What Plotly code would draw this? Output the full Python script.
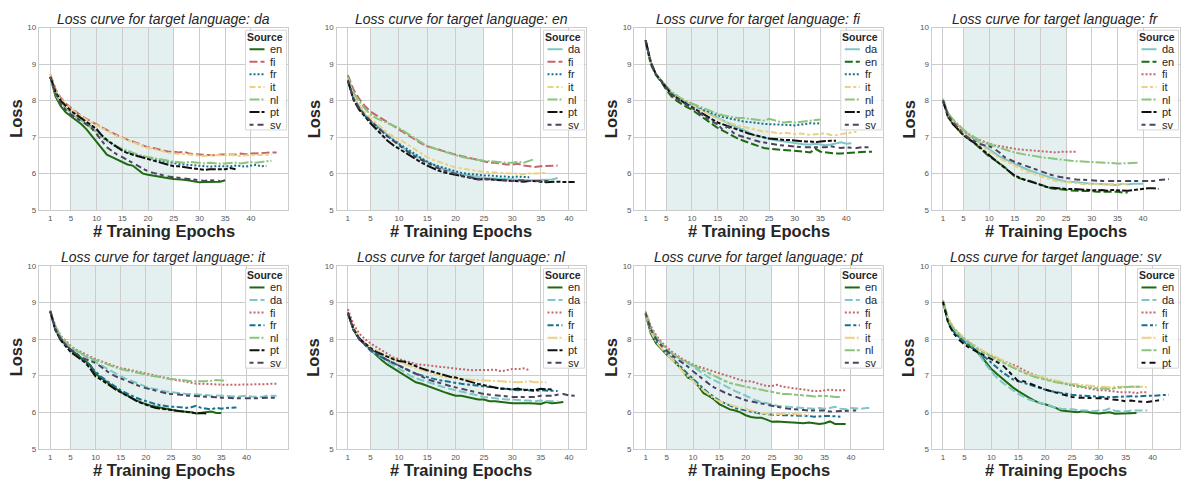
import plotly.graph_objects as go
from plotly.subplots import make_subplots

W, H = 1181, 487

# ---- validation loss per epoch, one dict per target language (key = source language) ----
loss_da = {
    "en": [8.65, 8.12, 7.85, 7.68, 7.57, 7.46, 7.36, 7.22, 7.05, 6.88, 6.68, 6.52, 6.45, 6.38, 6.3, 6.25, 6.22, 6.12, 6.0, 5.97, 5.94, 5.92, 5.9, 5.87, 5.85, 5.85, 5.83, 5.81, 5.78, 5.76, 5.77, 5.78, 5.77, 5.78, 5.82],
    "fi": [8.72, 8.32, 8.08, 7.92, 7.8, 7.68, 7.58, 7.5, 7.42, 7.35, 7.28, 7.2, 7.12, 7.05, 6.98, 6.93, 6.88, 6.82, 6.77, 6.72, 6.7, 6.66, 6.62, 6.6, 6.6, 6.58, 6.6, 6.55, 6.53, 6.52, 6.52, 6.5, 6.5, 6.52, 6.52, 6.5, 6.52, 6.55, 6.53, 6.55, 6.55, 6.55, 6.57, 6.58, 6.58],
    "fr": [8.65, 8.2, 7.95, 7.8, 7.68, 7.58, 7.48, 7.38, 7.28, 7.15, 7.0, 6.9, 6.8, 6.72, 6.65, 6.58, 6.53, 6.5, 6.47, 6.44, 6.4, 6.37, 6.33, 6.3, 6.28, 6.26, 6.25, 6.24, 6.22, 6.2, 6.2, 6.19, 6.2, 6.2, 6.18, 6.2, 6.22, 6.2, 6.19, 6.22, 6.24, 6.2, 6.21],
    "it": [8.72, 8.3, 8.05, 7.9, 7.78, 7.66, 7.56, 7.48, 7.4, 7.33, 7.26, 7.18, 7.1, 7.03, 6.97, 6.92, 6.86, 6.8, 6.75, 6.71, 6.67, 6.63, 6.6, 6.57, 6.55, 6.55, 6.53, 6.52, 6.5, 6.5, 6.48, 6.5, 6.5, 6.48, 6.5, 6.52, 6.5, 6.48, 6.5, 6.5, 6.52, 6.5, 6.5, 6.52],
    "nl": [8.65, 8.18, 7.92, 7.78, 7.66, 7.56, 7.46, 7.36, 7.26, 7.14, 7.02, 6.92, 6.82, 6.74, 6.68, 6.62, 6.56, 6.52, 6.48, 6.45, 6.42, 6.4, 6.37, 6.35, 6.33, 6.32, 6.3, 6.32, 6.3, 6.28, 6.28, 6.3, 6.28, 6.27, 6.28, 6.3, 6.3, 6.28, 6.3, 6.32, 6.3, 6.33, 6.34, 6.35],
    "pt": [8.65, 8.25, 8.0, 7.85, 7.72, 7.62, 7.52, 7.42, 7.32, 7.22, 7.05, 6.92, 6.82, 6.72, 6.63, 6.56, 6.52, 6.48, 6.43, 6.38, 6.34, 6.3, 6.27, 6.23, 6.2, 6.2, 6.18, 6.17, 6.15, 6.12, 6.1, 6.12, 6.12, 6.1, 6.12, 6.15, 6.12],
    "sv": [8.65, 8.2, 7.92, 7.74, 7.62, 7.52, 7.44, 7.35, 7.25, 7.08, 6.9, 6.72, 6.62, 6.52, 6.45, 6.37, 6.3, 6.22, 6.12, 6.06, 6.02, 5.98, 5.95, 5.92, 5.9, 5.88, 5.86, 5.85, 5.83, 5.82, 5.8, 5.82, 5.81, 5.8],
}

loss_en = {
    "da": [8.55, 8.1, 7.85, 7.62, 7.45, 7.32, 7.18, 7.05, 6.92, 6.8, 6.68, 6.58, 6.48, 6.4, 6.32, 6.24, 6.18, 6.12, 6.06, 6.02, 5.98, 5.95, 5.92, 5.9, 5.88, 5.87, 5.86, 5.85, 5.84, 5.84, 5.83, 5.83, 5.82, 5.82, 5.82, 5.83, 5.84, 5.88],
    "fi": [8.7, 8.3, 8.05, 7.85, 7.7, 7.6, 7.52, 7.42, 7.32, 7.22, 7.12, 7.02, 6.92, 6.82, 6.75, 6.7, 6.66, 6.62, 6.57, 6.52, 6.48, 6.44, 6.4, 6.36, 6.32, 6.3, 6.3, 6.27, 6.25, 6.25, 6.27, 6.22, 6.2, 6.18, 6.2, 6.2, 6.22, 6.22],
    "fr": [8.55, 8.05, 7.78, 7.58, 7.42, 7.28, 7.15, 7.02, 6.92, 6.82, 6.7, 6.6, 6.5, 6.42, 6.33, 6.25, 6.2, 6.15, 6.1, 6.05, 6.02, 6.0, 5.98, 5.96, 5.95, 5.95, 5.93, 5.92, 5.92, 5.9, 5.92, 5.9, 5.9],
    "it": [8.6, 8.15, 7.88, 7.68, 7.52, 7.38, 7.25, 7.12, 7.02, 6.95, 6.85, 6.75, 6.65, 6.55, 6.45, 6.38, 6.32, 6.27, 6.22, 6.17, 6.14, 6.12, 6.1, 6.07, 6.05, 6.05, 6.03, 6.02, 6.0, 6.0, 6.0, 5.98, 6.0, 6.0, 6.02, 6.02],
    "nl": [8.65, 8.22, 7.98, 7.78, 7.62, 7.52, 7.45, 7.38, 7.32, 7.25, 7.15, 7.05, 6.95, 6.85, 6.75, 6.7, 6.65, 6.6, 6.55, 6.5, 6.46, 6.43, 6.4, 6.37, 6.35, 6.34, 6.32, 6.32, 6.3, 6.3, 6.32, 6.3, 6.35, 6.4],
    "pt": [8.55, 8.02, 7.75, 7.55, 7.38, 7.22, 7.05, 6.9, 6.78, 6.68, 6.58, 6.48, 6.38, 6.3, 6.22, 6.14, 6.08, 6.03, 6.0, 5.98, 5.94, 5.9, 5.87, 5.84, 5.85, 5.84, 5.83, 5.82, 5.82, 5.8, 5.8, 5.78, 5.8, 5.8, 5.78, 5.76, 5.78, 5.78, 5.77, 5.77, 5.77],
    "sv": [8.55, 8.05, 7.8, 7.6, 7.45, 7.3, 7.15, 7.02, 6.9, 6.78, 6.66, 6.55, 6.45, 6.37, 6.28, 6.2, 6.14, 6.08, 6.03, 5.98, 5.95, 5.92, 5.88, 5.85, 5.86, 5.85, 5.84, 5.83, 5.82, 5.8, 5.82, 5.8, 5.8, 5.8, 5.8, 5.8, 5.8],
}

loss_fi = {
    "da": [9.65, 9.05, 8.72, 8.55, 8.38, 8.22, 8.12, 8.02, 7.95, 7.88, 7.82, 7.75, 7.68, 7.6, 7.52, 7.45, 7.38, 7.32, 7.25, 7.2, 7.12, 7.06, 7.02, 6.98, 6.94, 6.92, 6.9, 6.88, 6.85, 6.85, 6.82, 6.8, 6.8, 6.82, 6.8, 6.78, 6.8, 6.82, 6.86, 6.82, 6.83],
    "en": [9.6, 9.0, 8.7, 8.52, 8.3, 8.12, 8.0, 7.9, 7.82, 7.75, 7.65, 7.55, 7.45, 7.35, 7.25, 7.18, 7.1, 7.02, 6.95, 6.9, 6.85, 6.8, 6.75, 6.7, 6.68, 6.67, 6.66, 6.65, 6.63, 6.64, 6.62, 6.6, 6.58, 6.68, 6.6, 6.58, 6.55, 6.55, 6.55, 6.55, 6.57, 6.58, 6.6, 6.6, 6.6],
    "fr": [9.65, 9.05, 8.72, 8.55, 8.38, 8.22, 8.12, 8.02, 7.95, 7.88, 7.82, 7.76, 7.7, 7.65, 7.58, 7.55, 7.52, 7.48, 7.46, 7.43, 7.42, 7.4, 7.38, 7.36, 7.35, 7.35, 7.33, 7.34, 7.33, 7.32, 7.34, 7.35, 7.38, 7.37, 7.38],
    "it": [9.65, 9.05, 8.72, 8.55, 8.38, 8.22, 8.12, 8.02, 7.95, 7.88, 7.8, 7.72, 7.65, 7.57, 7.5, 7.45, 7.4, 7.35, 7.32, 7.28, 7.25, 7.22, 7.18, 7.15, 7.15, 7.12, 7.1, 7.12, 7.1, 7.08, 7.1, 7.08, 7.06, 7.08, 7.1, 7.1, 7.06, 7.05, 7.08, 7.1, 7.12, 7.15],
    "nl": [9.65, 9.05, 8.72, 8.55, 8.4, 8.25, 8.15, 8.05, 7.98, 7.92, 7.86, 7.8, 7.74, 7.68, 7.64, 7.6, 7.57, 7.55, 7.52, 7.52, 7.5, 7.48, 7.48, 7.45, 7.5, 7.45, 7.42, 7.4, 7.42, 7.4, 7.42, 7.43, 7.45, 7.47, 7.48],
    "pt": [9.65, 9.05, 8.72, 8.55, 8.35, 8.18, 8.08, 7.98, 7.9, 7.82, 7.73, 7.65, 7.57, 7.48, 7.4, 7.35, 7.3, 7.24, 7.18, 7.14, 7.1, 7.06, 7.02, 6.98, 6.96, 6.95, 6.93, 6.92, 6.92, 6.9, 6.9, 6.88, 6.88, 6.86, 6.88, 6.9, 6.9, 6.9],
    "sv": [9.65, 9.05, 8.72, 8.55, 8.35, 8.18, 8.06, 7.96, 7.88, 7.8, 7.7, 7.6, 7.5, 7.42, 7.35, 7.2, 7.3, 7.12, 7.05, 7.0, 6.95, 6.92, 6.88, 6.85, 6.83, 6.8, 6.78, 6.77, 6.75, 6.74, 6.73, 6.72, 6.72, 6.7, 6.7, 6.72, 6.75, 6.72, 6.7, 6.72, 6.7, 6.7, 6.72, 6.72, 6.72],
}

loss_fr = {
    "da": [8.0, 7.62, 7.45, 7.3, 7.15, 7.05, 6.95, 6.85, 6.75, 6.65, 6.55, 6.47, 6.4, 6.33, 6.27, 6.2, 6.14, 6.08, 6.03, 5.97, 5.93, 5.89, 5.85, 5.82, 5.78, 5.78, 5.76, 5.75, 5.73, 5.72, 5.72, 5.71, 5.7, 5.7, 5.69, 5.72, 5.7, 5.72, 5.72, 5.72],
    "en": [8.0, 7.55, 7.35, 7.2, 7.05, 6.95, 6.85, 6.72, 6.6, 6.47, 6.38, 6.28, 6.18, 6.05, 5.92, 5.87, 5.82, 5.8, 5.75, 5.68, 5.63, 5.6, 5.58, 5.56, 5.55, 5.54, 5.53, 5.53, 5.52, 5.52, 5.5, 5.5, 5.52, 5.5, 5.5, 5.48, 5.48],
    "fi": [8.02, 7.62, 7.45, 7.32, 7.18, 7.07, 6.98, 6.92, 6.88, 6.82, 6.78, 6.75, 6.72, 6.7, 6.68, 6.66, 6.65, 6.63, 6.62, 6.6, 6.6, 6.6, 6.58, 6.6, 6.6, 6.6, 6.6],
    "it": [8.0, 7.6, 7.42, 7.28, 7.12, 7.02, 6.92, 6.8, 6.7, 6.6, 6.5, 6.42, 6.35, 6.28, 6.2, 6.13, 6.08, 6.02, 5.97, 5.92, 5.88, 5.84, 5.8, 5.78, 5.77, 5.75, 5.73, 5.72, 5.7, 5.72, 5.7, 5.7, 5.7, 5.72, 5.7, 5.7, 5.72],
    "nl": [8.05, 7.65, 7.48, 7.35, 7.2, 7.1, 7.0, 6.92, 6.85, 6.8, 6.75, 6.7, 6.66, 6.62, 6.58, 6.54, 6.52, 6.5, 6.47, 6.45, 6.43, 6.42, 6.4, 6.38, 6.36, 6.35, 6.34, 6.33, 6.32, 6.32, 6.31, 6.3, 6.3, 6.28, 6.28, 6.28, 6.29, 6.3, 6.3],
    "pt": [8.0, 7.55, 7.35, 7.2, 7.05, 6.95, 6.85, 6.75, 6.62, 6.5, 6.38, 6.27, 6.16, 6.05, 5.95, 5.88, 5.82, 5.78, 5.74, 5.68, 5.64, 5.62, 5.6, 5.59, 5.58, 5.58, 5.57, 5.57, 5.55, 5.55, 5.54, 5.55, 5.53, 5.55, 5.54, 5.53, 5.53, 5.55, 5.57, 5.58, 5.6, 5.6, 5.58],
    "sv": [8.0, 7.6, 7.4, 7.25, 7.08, 6.98, 6.9, 6.82, 6.78, 6.75, 6.68, 6.58, 6.45, 6.38, 6.32, 6.27, 6.22, 6.17, 6.1, 6.05, 6.0, 5.97, 5.93, 5.9, 5.88, 5.86, 5.84, 5.83, 5.82, 5.82, 5.81, 5.8, 5.8, 5.8, 5.79, 5.8, 5.8, 5.8, 5.8, 5.8, 5.78, 5.8, 5.82, 5.83, 5.85],
}

loss_it = {
    "en": [8.75, 8.3, 8.05, 7.85, 7.72, 7.6, 7.5, 7.4, 7.28, 7.05, 6.95, 6.85, 6.75, 6.65, 6.55, 6.48, 6.4, 6.33, 6.27, 6.22, 6.18, 6.15, 6.12, 6.08, 6.06, 6.04, 6.03, 6.02, 6.0, 5.97, 5.98, 5.99, 6.02, 5.98, 5.98],
    "da": [8.75, 8.3, 8.05, 7.9, 7.78, 7.68, 7.6, 7.52, 7.45, 7.38, 7.3, 7.22, 7.12, 7.05, 6.98, 6.92, 6.86, 6.8, 6.75, 6.7, 6.66, 6.62, 6.6, 6.57, 6.55, 6.55, 6.52, 6.5, 6.5, 6.48, 6.48, 6.47, 6.45, 6.46, 6.45, 6.45, 6.44, 6.43, 6.44, 6.45, 6.43, 6.42, 6.42, 6.45, 6.46, 6.45],
    "fi": [8.78, 8.35, 8.1, 7.95, 7.82, 7.72, 7.65, 7.58, 7.5, 7.45, 7.4, 7.35, 7.3, 7.25, 7.2, 7.18, 7.15, 7.1, 7.07, 7.05, 7.02, 6.98, 6.95, 6.92, 6.9, 6.88, 6.86, 6.83, 6.8, 6.78, 6.78, 6.77, 6.76, 6.75, 6.75, 6.75, 6.75, 6.75, 6.76, 6.75, 6.76, 6.76, 6.77, 6.77, 6.78, 6.78],
    "fr": [8.75, 8.25, 8.0, 7.82, 7.7, 7.58, 7.48, 7.38, 7.25, 7.1, 6.98, 6.88, 6.78, 6.68, 6.6, 6.53, 6.46, 6.4, 6.35, 6.3, 6.26, 6.22, 6.19, 6.16, 6.15, 6.15, 6.13, 6.12, 6.14, 6.18, 6.12, 6.1, 6.08, 6.12, 6.1, 6.12, 6.12, 6.13],
    "nl": [8.78, 8.35, 8.1, 7.92, 7.8, 7.7, 7.62, 7.55, 7.48, 7.42, 7.38, 7.32, 7.28, 7.22, 7.18, 7.15, 7.12, 7.08, 7.04, 7.02, 7.0, 6.98, 6.95, 6.92, 6.9, 6.9, 6.88, 6.86, 6.85, 6.85, 6.84, 6.85, 6.86, 6.88, 6.87, 6.87],
    "pt": [8.75, 8.25, 7.98, 7.8, 7.65, 7.55, 7.45, 7.35, 7.18, 6.98, 6.9, 6.8, 6.7, 6.62, 6.55, 6.47, 6.4, 6.32, 6.26, 6.2, 6.16, 6.12, 6.1, 6.07, 6.05, 6.03, 6.02, 6.01, 6.0, 5.97, 5.98, 5.97],
    "sv": [8.75, 8.28, 8.02, 7.85, 7.72, 7.62, 7.52, 7.45, 7.4, 7.35, 7.25, 7.15, 7.05, 6.98, 6.92, 6.86, 6.8, 6.75, 6.7, 6.66, 6.62, 6.58, 6.55, 6.52, 6.5, 6.5, 6.48, 6.46, 6.45, 6.43, 6.42, 6.42, 6.4, 6.4, 6.4, 6.4, 6.38, 6.38, 6.38, 6.37, 6.38, 6.38, 6.4, 6.4, 6.4, 6.4],
}

loss_nl = {
    "en": [8.7, 8.25, 8.0, 7.85, 7.7, 7.55, 7.42, 7.3, 7.2, 7.12, 7.02, 6.9, 6.82, 6.78, 6.72, 6.65, 6.6, 6.55, 6.5, 6.45, 6.45, 6.42, 6.38, 6.35, 6.35, 6.3, 6.3, 6.28, 6.26, 6.25, 6.25, 6.26, 6.25, 6.24, 6.23, 6.28, 6.25, 6.26, 6.28],
    "da": [8.72, 8.25, 8.0, 7.85, 7.7, 7.58, 7.48, 7.38, 7.28, 7.18, 7.08, 7.0, 6.93, 6.88, 6.82, 6.76, 6.72, 6.68, 6.64, 6.6, 6.56, 6.52, 6.48, 6.45, 6.42, 6.4, 6.38, 6.36, 6.35, 6.35, 6.33, 6.32, 6.32, 6.3, 6.32, 6.3, 6.3, 6.3],
    "fi": [8.82, 8.4, 8.15, 8.0, 7.88, 7.78, 7.68, 7.58, 7.5, 7.45, 7.4, 7.35, 7.32, 7.3, 7.28, 7.28, 7.25, 7.22, 7.2, 7.18, 7.18, 7.16, 7.15, 7.15, 7.14, 7.15, 7.16, 7.12, 7.15, 7.18, 7.18, 7.2, 7.15],
    "fr": [8.72, 8.25, 8.0, 7.85, 7.68, 7.58, 7.5, 7.42, 7.35, 7.28, 7.2, 7.12, 7.05, 7.0, 6.95, 6.92, 6.88, 6.85, 6.82, 6.8, 6.78, 6.76, 6.74, 6.72, 6.7, 6.68, 6.66, 6.64, 6.62, 6.6, 6.6, 6.62, 6.6, 6.58, 6.6, 6.6, 6.58, 6.58],
    "it": [8.75, 8.3, 8.05, 7.9, 7.78, 7.68, 7.6, 7.52, 7.45, 7.38, 7.32, 7.26, 7.2, 7.15, 7.1, 7.05, 7.0, 6.97, 6.95, 6.93, 6.92, 6.9, 6.88, 6.88, 6.87, 6.85, 6.84, 6.83, 6.82, 6.82, 6.82, 6.83, 6.85, 6.82, 6.82, 6.82],
    "pt": [8.72, 8.28, 8.02, 7.88, 7.75, 7.65, 7.58, 7.5, 7.45, 7.4, 7.38, 7.32, 7.25, 7.2, 7.15, 7.1, 7.05, 7.0, 6.97, 6.95, 6.9, 6.85, 6.8, 6.77, 6.74, 6.7, 6.66, 6.64, 6.64, 6.62, 6.65, 6.6, 6.62, 6.6, 6.64, 6.62, 6.62],
    "sv": [8.72, 8.25, 8.0, 7.85, 7.72, 7.62, 7.52, 7.42, 7.35, 7.28, 7.2, 7.12, 7.05, 6.98, 6.9, 6.85, 6.8, 6.76, 6.72, 6.68, 6.64, 6.6, 6.56, 6.52, 6.5, 6.48, 6.46, 6.44, 6.43, 6.42, 6.42, 6.42, 6.43, 6.42, 6.45, 6.44, 6.45, 6.48, 6.5, 6.46, 6.45],
}

loss_pt = {
    "en": [8.68, 8.15, 7.88, 7.72, 7.58, 7.45, 7.3, 7.15, 6.95, 6.88, 6.72, 6.52, 6.45, 6.35, 6.22, 6.15, 6.08, 6.05, 6.0, 5.92, 5.87, 5.85, 5.85, 5.8, 5.74, 5.75, 5.75, 5.73, 5.72, 5.7, 5.7, 5.72, 5.7, 5.68, 5.7, 5.75, 5.68, 5.68, 5.68],
    "da": [8.72, 8.3, 8.05, 7.88, 7.72, 7.6, 7.5, 7.42, 7.35, 7.25, 7.15, 7.05, 6.95, 6.88, 6.8, 6.72, 6.65, 6.58, 6.52, 6.45, 6.4, 6.32, 6.28, 6.24, 6.2, 6.18, 6.16, 6.15, 6.14, 6.12, 6.12, 6.1, 6.1, 6.12, 6.1, 6.12, 6.15, 6.1, 6.08, 6.12, 6.1, 6.1, 6.12, 6.12],
    "fi": [8.75, 8.35, 8.1, 7.92, 7.78, 7.65, 7.55, 7.45, 7.38, 7.3, 7.25, 7.2, 7.15, 7.1, 7.05, 7.02, 6.98, 6.92, 6.88, 6.85, 6.85, 6.8, 6.75, 6.72, 6.72, 6.75, 6.7, 6.68, 6.65, 6.62, 6.6, 6.6, 6.58, 6.58, 6.6, 6.62, 6.6, 6.6, 6.6],
    "fr": [8.7, 8.2, 7.92, 7.75, 7.6, 7.48, 7.35, 7.2, 7.05, 6.9, 6.78, 6.65, 6.52, 6.42, 6.32, 6.25, 6.18, 6.12, 6.08, 6.05, 6.02, 5.98, 5.96, 5.95, 5.95, 5.93, 5.92, 5.92, 5.92, 5.92, 5.9, 5.9, 5.88, 5.9, 5.9, 5.9, 5.9, 5.88],
    "it": [8.7, 8.2, 7.92, 7.75, 7.58, 7.45, 7.3, 7.12, 6.98, 6.85, 6.72, 6.6, 6.48, 6.38, 6.3, 6.25, 6.2, 6.15, 6.12, 6.1, 6.05, 6.0, 5.98, 5.96, 5.95, 5.95, 5.94, 5.95, 5.95, 5.95, 5.93, 5.93],
    "nl": [8.72, 8.3, 8.05, 7.88, 7.72, 7.6, 7.5, 7.42, 7.35, 7.28, 7.2, 7.12, 7.05, 6.98, 6.92, 6.86, 6.8, 6.76, 6.72, 6.7, 6.67, 6.64, 6.6, 6.58, 6.55, 6.52, 6.5, 6.5, 6.48, 6.47, 6.46, 6.45, 6.43, 6.45, 6.45, 6.44, 6.42, 6.42],
    "sv": [8.7, 8.25, 8.0, 7.82, 7.68, 7.55, 7.45, 7.35, 7.25, 7.12, 7.0, 6.88, 6.78, 6.68, 6.6, 6.54, 6.48, 6.42, 6.38, 6.33, 6.3, 6.26, 6.22, 6.2, 6.18, 6.15, 6.12, 6.1, 6.08, 6.07, 6.06, 6.05, 6.05, 6.04, 6.05, 6.02, 6.03, 6.04, 6.05, 6.05, 6.05],
}

loss_sv = {
    "en": [9.02, 8.45, 8.2, 8.05, 7.92, 7.8, 7.7, 7.55, 7.35, 7.18, 7.05, 6.92, 6.8, 6.68, 6.58, 6.48, 6.4, 6.32, 6.25, 6.22, 6.18, 6.12, 6.05, 6.03, 6.02, 6.0, 6.03, 6.0, 5.98, 5.97, 5.99, 6.0, 5.96, 5.96, 5.97, 5.98, 5.98],
    "da": [9.02, 8.5, 8.25, 8.08, 7.95, 7.82, 7.7, 7.52, 7.3, 7.12, 6.95, 6.82, 6.7, 6.6, 6.5, 6.42, 6.35, 6.3, 6.25, 6.22, 6.18, 6.12, 6.1, 6.1, 6.08, 6.06, 6.05, 6.05, 6.03, 6.05, 6.05, 6.1, 6.04, 6.03, 6.02, 6.05, 6.05, 6.04, 6.05],
    "fi": [9.05, 8.55, 8.3, 8.15, 8.02, 7.9, 7.8, 7.7, 7.62, 7.55, 7.48, 7.42, 7.35, 7.3, 7.24, 7.15, 7.08, 7.02, 6.97, 6.92, 6.88, 6.84, 6.8, 6.76, 6.73, 6.7, 6.68, 6.65, 6.62, 6.6, 6.6, 6.58, 6.56, 6.55, 6.55, 6.55, 6.52, 6.55, 6.55],
    "fr": [9.02, 8.45, 8.2, 8.05, 7.92, 7.82, 7.72, 7.6, 7.48, 7.35, 7.22, 7.1, 7.0, 6.9, 6.85, 6.8, 6.75, 6.7, 6.66, 6.62, 6.58, 6.55, 6.52, 6.5, 6.48, 6.46, 6.45, 6.44, 6.43, 6.42, 6.42, 6.41, 6.42, 6.43, 6.42, 6.44, 6.43, 6.45, 6.45, 6.45, 6.46, 6.46, 6.48],
    "it": [9.05, 8.55, 8.3, 8.15, 8.02, 7.9, 7.8, 7.7, 7.62, 7.58, 7.5, 7.42, 7.35, 7.28, 7.18, 7.1, 7.05, 7.0, 6.97, 6.94, 6.9, 6.86, 6.83, 6.8, 6.78, 6.76, 6.74, 6.72, 6.7, 6.7, 6.7, 6.68, 6.7, 6.7, 6.7, 6.7, 6.72, 6.7, 6.68],
    "nl": [9.05, 8.52, 8.28, 8.12, 8.0, 7.88, 7.76, 7.66, 7.6, 7.52, 7.45, 7.38, 7.3, 7.22, 7.15, 7.08, 7.02, 6.97, 6.93, 6.88, 6.85, 6.82, 6.8, 6.77, 6.75, 6.72, 6.7, 6.68, 6.66, 6.65, 6.65, 6.63, 6.66, 6.68, 6.68, 6.7, 6.7, 6.7],
    "pt": [9.02, 8.42, 8.15, 7.98, 7.85, 7.75, 7.68, 7.6, 7.52, 7.45, 7.38, 7.3, 7.15, 7.0, 6.85, 6.85, 6.8, 6.75, 6.68, 6.62, 6.58, 6.55, 6.5, 6.45, 6.42, 6.4, 6.4, 6.4, 6.38, 6.38, 6.38, 6.36, 6.35, 6.33, 6.3, 6.32, 6.3, 6.28, 6.28, 6.3, 6.32, 6.35],
}

TARGETS = ["da", "en", "fi", "fr", "it", "nl", "pt", "sv"]
PANELS = [loss_da, loss_en, loss_fi, loss_fr, loss_it, loss_nl, loss_pt, loss_sv]
X_TICKS = [1, 5, 10, 15, 20, 25, 30, 35, 40]
Y_TICKS = [5, 6, 7, 8, 9, 10]
SHADE_EPOCHS = (5, 25)

# ---- styling ----
COLORS = {
    "en": "#1d6a12", "da": "#7fc6c6", "fi": "#c3676d", "fr": "#19708e",
    "it": "#ebd184", "nl": "#8dc47d", "pt": "#111111", "sv": "#4c4360",
}
# dash sequence assigned in legend order (solid first)
DASHES = ["solid", "8px,3px", "2px,2px", "6px,2.5px,3px,2.5px", "10px,2px,2px,2px",
          "10px,2px,4px,2px,4px,2px", "4px,4px,6px,3px"]
LINE_W = 2
FONT = "Liberation Sans, Arial, sans-serif"
TEXT = "#262626"
GRID = "#cccccc"

# plot areas in pixels
COL_X = [(39, 288), (336.5, 586), (634.3, 883.3), (931.7, 1180)]
ROW_Y = [(24, 210), (266.7, 453.3)]


def px(x):
    return x / W


def py(y):
    return 1 - y / H


fig = make_subplots(rows=2, cols=4)
shapes, annotations = [], []

for i, (target, series) in enumerate(zip(TARGETS, PANELS)):
    r, c = divmod(i, 4)
    n = i + 1
    xa = "x" if n == 1 else f"x{n}"
    ya = "y" if n == 1 else f"y{n}"
    x0p, x1p = COL_X[c]
    y0p, y1p = ROW_Y[r]

    order = list(series.keys())
    for k, src in enumerate(order):
        vals = series[src]
        fig.add_trace(
            go.Scatter(
                x=list(range(1, len(vals) + 1)), y=vals, mode="lines", name=src,
                line=dict(color=COLORS[src], width=LINE_W, dash=DASHES[k]),
                showlegend=False, hoverinfo="skip",
            ),
            row=r + 1, col=c + 1,
        )

    xmax = max(len(v) for v in series.values())
    pad = 0.05 * (xmax - 1)
    axis_common = dict(
        showline=True, mirror=True, linecolor=GRID, linewidth=1.3,
        showgrid=True, gridcolor=GRID, gridwidth=1, zeroline=False,
        ticks="", tickfont=dict(family=FONT, size=8, color="#555555"),
    )
    fig.update_layout({
        f"xaxis{'' if n == 1 else n}": dict(
            domain=[px(x0p), px(x1p)], range=[1 - pad, xmax + pad],
            tickvals=X_TICKS, **axis_common),
        f"yaxis{'' if n == 1 else n}": dict(
            domain=[py(y1p), py(y0p)], range=[5, 10],
            tickvals=Y_TICKS, **axis_common),
    })

    # highlighted epoch window (under the grid)
    shapes.append(dict(
        type="rect", xref=xa, yref=f"{ya} domain", x0=SHADE_EPOCHS[0], x1=SHADE_EPOCHS[1],
        y0=0, y1=1, fillcolor="#e4f0f0", line=dict(width=0), layer="below",
    ))

    # titles
    cx = (x0p + x1p) / 2
    annotations.append(dict(
        text=f"<i>Loss curve for target language: {target}</i>", x=px(cx), y=py(y0p - 9),
        xref="paper", yref="paper", showarrow=False, xanchor="center", yanchor="middle",
        font=dict(family=FONT, size=14, color=TEXT),
    ))
    annotations.append(dict(
        text="<b># Training Epochs</b>", x=px(cx), y=py(y1p + 21),
        xref="paper", yref="paper", showarrow=False, xanchor="center", yanchor="middle",
        font=dict(family=FONT, size=16.5, color=TEXT),
    ))
    annotations.append(dict(
        text="<b>Loss</b>", x=px(x0p - 23), y=py((y0p + y1p) / 2), textangle=-90,
        xref="paper", yref="paper", showarrow=False, xanchor="center", yanchor="middle",
        font=dict(family=FONT, size=16.5, color=TEXT),
    ))

    # legend box
    lw, lh = 41, 101.5
    lx0 = x1p - 1.5 - lw
    ly0 = y0p + 2.8
    shapes.append(dict(
        type="rect", xref="paper", yref="paper", x0=px(lx0), x1=px(lx0 + lw),
        y0=py(ly0 + lh), y1=py(ly0), fillcolor="rgba(255,255,255,0.85)",
        line=dict(color="#d6d6d6", width=1), layer="above",
    ))
    annotations.append(dict(
        text="<b>Source</b>", x=px(lx0 + 19), y=py(ly0 + 6.7), xref="paper", yref="paper",
        showarrow=False, xanchor="center", yanchor="middle",
        font=dict(family=FONT, size=10.5, color=TEXT),
    ))
    for k, src in enumerate(order):
        yy = ly0 + 19.3 + 12.8 * k
        shapes.append(dict(
            type="line", xref="paper", yref="paper", x0=px(lx0 + 4), x1=px(lx0 + 19),
            y0=py(yy), y1=py(yy), line=dict(color=COLORS[src], width=LINE_W, dash=DASHES[k]),
            layer="above",
        ))
        annotations.append(dict(
            text=src, x=px(lx0 + 22.5), y=py(yy), xref="paper", yref="paper",
            showarrow=False, xanchor="left", yanchor="middle",
            font=dict(family=FONT, size=11, color=TEXT),
        ))

fig.update_layout(
    width=W, height=H, margin=dict(l=0, r=0, t=0, b=0),
    paper_bgcolor="white", plot_bgcolor="white",
    shapes=shapes, annotations=annotations, showlegend=False,
    font=dict(family=FONT, color=TEXT),
)

fig.write_html("out.html")
